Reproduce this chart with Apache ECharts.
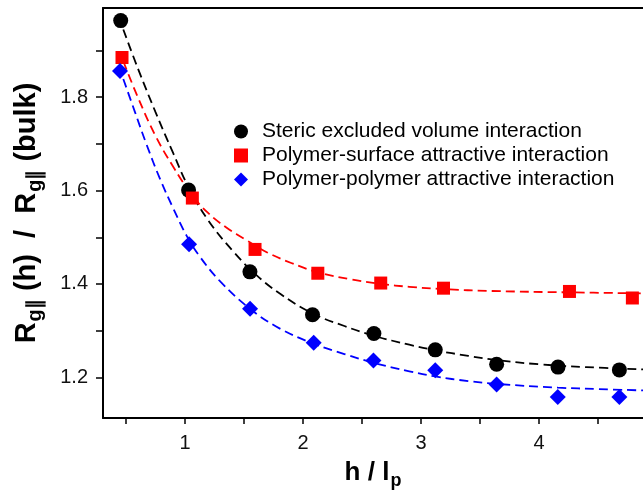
<!DOCTYPE html>
<html>
<head>
<meta charset="utf-8">
<script src="https://cdn.jsdelivr.net/npm/echarts@6/dist/echarts.min.js"></script>
<style>
html,body{margin:0;padding:0;background:#fff;}
#chart{width:643px;height:495px;}
</style>
</head>
<body>
<div id="chart"></div>
<script>
// ---- data ----
const seriesNames = [
  'Steric excluded volume interaction',
  'Polymer-surface attractive interaction',
  'Polymer-polymer attractive interaction'
];
// Steric (black circles)
const stericX = [0.455, 1.03, 1.55, 2.08, 2.60, 3.12, 3.64, 4.16, 4.68];
const stericY = [1.964, 1.601, 1.426, 1.334, 1.294, 1.259, 1.228, 1.222, 1.216];
// Polymer-surface (red squares)
const surfX = [0.466, 1.062, 1.593, 2.125, 2.658, 3.19, 4.257, 4.79];
const surfY = [1.885, 1.584, 1.474, 1.423, 1.402, 1.391, 1.384, 1.370];
// Polymer-polymer (blue diamonds)
const polyX = [0.449, 1.034, 1.551, 2.09, 2.596, 3.12, 3.64, 4.158, 4.68];
const polyY = [1.856, 1.485, 1.347, 1.274, 1.236, 1.215, 1.185, 1.158, 1.158];

// dashed fit curves
const stericFitX = [0.477, 0.6, 0.75, 0.9, 1.03, 1.2, 1.4, 1.6, 1.8, 2.08, 2.35, 2.6, 2.9, 3.12, 3.4, 3.64, 4.0, 4.4, 4.88];
const stericFitY = [1.945, 1.862, 1.768, 1.68, 1.607, 1.535, 1.472, 1.42, 1.38, 1.337, 1.31, 1.289, 1.27, 1.258, 1.246, 1.237, 1.228, 1.222, 1.217];
const surfFitX = [0.477, 0.6, 0.75, 0.9, 1.06, 1.2, 1.35, 1.52, 1.7, 1.9, 2.125, 2.4, 2.66, 2.9, 3.19, 3.6, 4.26, 4.88];
const surfFitY = [1.877, 1.80, 1.717, 1.651, 1.59, 1.551, 1.521, 1.494, 1.467, 1.445, 1.425, 1.41, 1.40, 1.394, 1.389, 1.385, 1.382, 1.380];
const polyFitX = [0.477, 0.576, 0.675, 0.788, 0.9, 1.014, 1.127, 1.3, 1.55, 1.8, 2.09, 2.35, 2.6, 2.9, 3.12, 3.4, 3.64, 4.16, 4.5, 4.88];
const polyFitY = [1.839, 1.768, 1.698, 1.625, 1.562, 1.503, 1.458, 1.405, 1.347, 1.305, 1.272, 1.25, 1.231, 1.213, 1.202, 1.192, 1.186, 1.178, 1.175, 1.172];

// axes
const xRange = [0.305, 4.88];
const yRange = [1.113, 1.991];
const xTickValues = [0.5, 1, 1.5, 2, 2.5, 3, 3.5, 4, 4.5];
const xTickLabels = [1, 2, 3, 4];
const yTickValues = [1.2, 1.3, 1.4, 1.5, 1.6, 1.7, 1.8, 1.9];
const yTickLabels = [1.2, 1.4, 1.6, 1.8];

const zip = (xs, ys) => xs.map((x, i) => [x, ys[i]]);
const FONT = "'Liberation Sans', Arial, Helvetica, sans-serif";

const chart = echarts.init(document.getElementById('chart'), null, {renderer: 'canvas'});

const dashLine = (name, xs, ys, color) => ({
  name: name + ' fit',
  type: 'line',
  data: zip(xs, ys),
  smooth: 0.4,
  symbol: 'none',
  silent: true,
  z: 2,
  lineStyle: {color: color, width: 1.8, type: [9, 5]}
});

const option = {
  backgroundColor: '#ffffff',
  animation: false,
  textStyle: {fontFamily: FONT},
  grid: {left: 103, top: 8, right: 0, bottom: 72, containLabel: false},
  legend: {
    orient: 'vertical',
    left: 229,
    top: 116,
    itemWidth: 14,
    itemHeight: 14,
    itemGap: 3,
    textStyle: {fontSize: 21, color: '#000', fontFamily: FONT, padding: [0, 0, 0, 9]},
    data: [
      {name: seriesNames[0], icon: 'circle'},
      {name: seriesNames[1], icon: 'rect'},
      {name: seriesNames[2], icon: 'diamond'}
    ]
  },
  xAxis: [{
    type: 'value',
    min: xRange[0], max: xRange[1],
    splitLine: {show: false},
    axisLine: {show: true, onZero: false, lineStyle: {color: '#000', width: 2}},
    axisTick: {show: true, customValues: xTickValues, length: 6, lineStyle: {color: '#000', width: 1.5}},
    axisLabel: {customValues: xTickLabels, fontSize: 20, color: '#111', margin: 15, fontFamily: FONT,
      formatter: v => String(v)},
    name: '{a|h / l}{b|p}',
    nameLocation: 'middle',
    nameGap: 38,
    nameTextStyle: {
      rich: {
        a: {fontSize: 26, fontWeight: 'bold', color: '#000', fontFamily: FONT},
        b: {fontSize: 18, fontWeight: 'bold', color: '#000', fontFamily: FONT, padding: [16, 0, 0, 1]}
      }
    }
  }, {
    type: 'value',
    position: 'top',
    min: xRange[0], max: xRange[1],
    splitLine: {show: false},
    axisLine: {show: true, onZero: false, lineStyle: {color: '#000', width: 2}},
    axisTick: {show: false},
    axisLabel: {show: false}
  }],
  yAxis: {
    type: 'value',
    min: yRange[0], max: yRange[1],
    splitLine: {show: false},
    axisLine: {show: true, onZero: false, lineStyle: {color: '#000', width: 2}},
    axisTick: {show: true, customValues: yTickValues, length: 7, lineStyle: {color: '#000', width: 1.5}},
    axisLabel: {customValues: yTickLabels, fontSize: 20, color: '#111', margin: 15, fontFamily: FONT,
      formatter: v => v.toFixed(1)},
    name: '{a|R}{b|g∥}{a| (h)  /  R}{b|g∥}{a| (bulk)}',
    nameLocation: 'middle',
    nameRotate: 90,
    nameGap: 58,
    nameTextStyle: {
      rich: {
        a: {fontSize: 29, fontWeight: 'bold', color: '#000', fontFamily: FONT},
        b: {fontSize: 20, fontWeight: 'bold', color: '#000', fontFamily: FONT, padding: [16, 0, 0, 1]}
      }
    }
  },
  series: [
    dashLine(seriesNames[0], stericFitX, stericFitY, '#000000'),
    dashLine(seriesNames[1], surfFitX, surfFitY, '#ff0000'),
    dashLine(seriesNames[2], polyFitX, polyFitY, '#0000ff'),
    {name: seriesNames[0], type: 'scatter', data: zip(stericX, stericY), symbol: 'circle', symbolSize: 15, z: 5,
      itemStyle: {color: '#000000', opacity: 1}},
    {name: seriesNames[1], type: 'scatter', data: zip(surfX, surfY), symbol: 'rect', symbolSize: 13, z: 5,
      itemStyle: {color: '#ff0000', opacity: 1}},
    {name: seriesNames[2], type: 'scatter', data: zip(polyX, polyY), symbol: 'diamond', symbolSize: 16, z: 5,
      itemStyle: {color: '#0000ff', opacity: 1}}
  ]
};
chart.setOption(option);
</script>
</body>
</html>
